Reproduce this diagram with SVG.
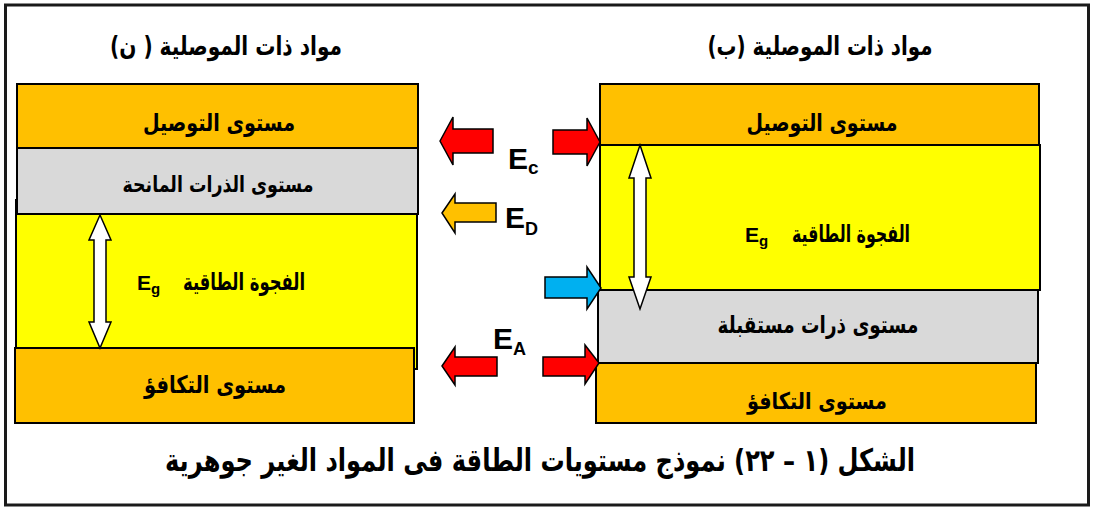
<svg xmlns="http://www.w3.org/2000/svg" width="1094" height="509" viewBox="0 0 1094 509">
  <style>
    .band { stroke: #000; stroke-width: 2; }
    .cond { fill: #FFC000; }
    .gray { fill: #D9D9D9; }
    .gap { fill: #FFFF00; }
    .ar { font-family: "DejaVu Sans", "Noto Sans", sans-serif; font-weight: bold; fill: #000; direction: rtl; text-anchor: middle; }
    .lat { font-family: "Liberation Sans", Arial, sans-serif; font-weight: bold; fill: #000; }
    .arrow { stroke: #000; stroke-width: 1.5; stroke-linejoin: miter; }
    .red { fill: #FF0000; }
    .orange { fill: #FFC000; }
    .blue { fill: #00B0F0; }
    .white { fill: #FFFFFF; }
  </style>

  <!-- frame -->
  <rect x="5.5" y="5" width="1083" height="500" fill="#FFFFFF" stroke="#1a1a1a" stroke-width="3"/>

  <!-- column titles -->
  <text class="ar" x="226" y="55" font-size="26" textLength="232" lengthAdjust="spacingAndGlyphs">مواد ذات الموصلية ( ن)</text>
  <text class="ar" x="820" y="55" font-size="26" textLength="225" lengthAdjust="spacingAndGlyphs">مواد ذات الموصلية (ب)</text>

  <!-- n-type material bands -->
  <g id="n-gap">
    <rect class="band gap" x="16" y="200" width="401" height="169"/>
  </g>
  <g id="n-conduction">
    <rect class="band cond" x="17" y="84" width="401" height="64"/>
    <text class="ar" x="219" y="131" font-size="24" textLength="152" lengthAdjust="spacingAndGlyphs">مستوى التوصيل</text>
  </g>
  <g id="n-donor">
    <rect class="band gray" x="17" y="148" width="401" height="66"/>
    <text class="ar" x="218" y="192" font-size="22" textLength="191" lengthAdjust="spacingAndGlyphs">مستوى الذرات المانحة</text>
  </g>
  <g id="n-gap-label">
    <rect x="17" y="215" width="399" height="20" fill="#FFFF00"/>
    <text class="ar" x="244" y="290" font-size="24" textLength="122" lengthAdjust="spacingAndGlyphs">الفجوة الطاقية</text>
    <text class="lat" x="137" y="290" font-size="21">E<tspan font-size="15" dy="4">g</tspan></text>
  </g>
  <g id="n-valence">
    <rect class="band cond" x="15" y="348" width="399" height="75"/>
    <text class="ar" x="215" y="393" font-size="24" textLength="142" lengthAdjust="spacingAndGlyphs">مستوى التكافؤ</text>
  </g>

  <!-- p-type material bands -->
  <g id="p-conduction">
    <rect class="band cond" x="600" y="84" width="439" height="61"/>
    <text class="ar" x="822" y="131" font-size="24" textLength="151" lengthAdjust="spacingAndGlyphs">مستوى التوصيل</text>
  </g>
  <g id="p-gap">
    <rect class="band gap" x="600" y="145" width="440" height="145"/>
    <text class="ar" x="851" y="242" font-size="24" textLength="118" lengthAdjust="spacingAndGlyphs">الفجوة الطاقية</text>
    <text class="lat" x="745" y="242" font-size="21">E<tspan font-size="15" dy="4">g</tspan></text>
  </g>
  <g id="p-acceptor">
    <rect class="band gray" x="598" y="290" width="440" height="73"/>
    <text class="ar" x="818" y="333" font-size="24" textLength="201" lengthAdjust="spacingAndGlyphs">مستوى ذرات مستقبلة</text>
  </g>
  <g id="p-valence">
    <rect class="band cond" x="596" y="363" width="440" height="60"/>
    <text class="ar" x="817" y="409" font-size="23" textLength="140" lengthAdjust="spacingAndGlyphs">مستوى التكافؤ</text>
  </g>

  <!-- energy level pointers and gap arrows -->
  <g id="connectors">
    <polygon class="arrow white" points="100,215 111,240 106,240 106,322 111,322 100,348 89,322 94,322 94,240 89,240"/>
    <polygon class="arrow white" points="640,145 651,178 646,178 646,277 651,277 640,309 629,277 634,277 634,178 629,178"/>

    <polygon class="arrow red" points="440,141 453,117 453,129 493,129 493,153 453,153 453,165"/>
    <polygon class="arrow red" points="600,142 587,118 587,130 553,130 553,154 587,154 587,166"/>
    <polygon class="arrow orange" points="442,213 455,194 455,203 496,203 496,222 455,222 455,233"/>
    <polygon class="arrow blue" points="601,288 587,267 587,277 545,277 545,298 587,298 587,309"/>
    <polygon class="arrow red" points="442,366 455,347 455,357 497,357 497,376 455,376 455,385"/>
    <polygon class="arrow red" points="599,363 585,345 585,357 543,357 543,376 585,376 585,384"/>
  </g>

  <!-- level labels -->
  <g id="label-Ec">
    <text class="lat" x="508" y="169" font-size="30">E<tspan font-size="19" dy="5">c</tspan></text>
  </g>
  <g id="label-ED">
    <text class="lat" x="505" y="228" font-size="30">E<tspan font-size="18" dy="7">D</tspan></text>
  </g>
  <g id="label-EA">
    <text class="lat" x="493" y="349" font-size="30">E<tspan font-size="18" dy="6">A</tspan></text>
  </g>

  <!-- caption -->
  <text class="ar" x="540" y="471" font-size="31" textLength="750" lengthAdjust="spacingAndGlyphs">الشكل (١ – ٢٢) نموذج مستويات الطاقة فى المواد الغير جوهرية</text>
</svg>
